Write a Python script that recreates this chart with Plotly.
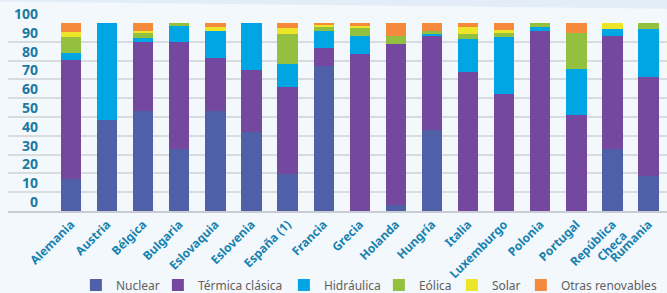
import plotly.graph_objects as go

paises = ["Alemania", "Austria", "Bélgica", "Bulgaria", "Eslovaquia", "Eslovenia",
          "España (1)", "Francia", "Grecia", "Holanda", "Hungría", "Italia",
          "Luxemburgo", "Polonia", "Portugal", "República<br>Checa", "Rumania"]

nuclear = [17.0, 48.5, 53.4, 33.0, 53.4, 41.9, 19.9, 77.3, 0.0, 3.2, 43.3, 0.0, 0.0, 0.0, 0.0, 33.0, 18.8]
termica = [63.4, 0.0, 36.6, 57.0, 27.9, 32.9, 46.2, 9.5, 83.6, 85.8, 49.8, 74.2, 62.5, 95.5, 51.0, 60.1, 52.6]
hidraulica = [3.6, 51.5, 2.2, 8.4, 14.4, 25.2, 12.2, 8.7, 9.3, 0.0, 1.2, 17.4, 30.2, 2.2, 24.3, 3.9, 25.2]
eolica = [8.3, 0.0, 2.8, 1.6, 0.0, 0.0, 16.0, 2.2, 4.6, 3.9, 1.2, 2.5, 2.0, 2.3, 19.2, 0.0, 3.4]
solar = [3.1, 0.0, 0.9, 0.0, 2.3, 0.0, 3.0, 1.2, 1.1, 0.0, 0.0, 3.8, 1.7, 0.0, 0.0, 3.0, 0.0]
otras = [4.6, 0.0, 4.1, 0.0, 2.0, 0.0, 2.7, 1.1, 1.4, 7.1, 4.5, 2.1, 3.6, 0.0, 5.5, 0.0, 0.0]

y_ticks = [0, 10, 20, 30, 40, 50, 60, 70, 80, 90, 100]

series = [
    ("Nuclear", nuclear, "#5060a8", 37),
    ("Térmica clásica", termica, "#74489e", 81),
    ("Hidráulica", hidraulica, "#00a6e3", 50),
    ("Eólica", eolica, "#93c13f", 28),
    ("Solar", solar, "#ede528", 24),
    ("Otras renovables", otras, "#f68a3c", 98),
]

fig = go.Figure()
for name, vals, col, lw in series:
    fig.add_trace(go.Bar(x=paises, y=vals, name=name, marker=dict(color=col, line=dict(width=0)),
                         width=0.56, legendwidth=lw))

# invisible trace to carry the label axis
fig.add_trace(go.Scatter(x=[paises[0]], y=[None], yaxis="y2", showlegend=False,
                         hoverinfo="skip", mode="markers", marker=dict(opacity=0)))

bg = "#f3f8fc"
fig.update_layout(
    width=667, height=293,
    margin=dict(l=8, r=0, t=23, b=82, autoexpand=False),
    paper_bgcolor=bg, plot_bgcolor=bg,
    barmode="stack",
    font=dict(family="Noto Sans", color="#606060"),
    xaxis=dict(range=[-1.745, 16.51], tickangle=-45, showgrid=False, automargin=False,
               showline=True, linecolor="#c9cdd3", linewidth=1.5,
               tickfont=dict(family="Noto Sans", size=12, color="#1782b0", weight="bold"),
               ticks=""),
    yaxis=dict(range=[0, 100], tickvals=y_ticks, showticklabels=False, automargin=False,
               showgrid=True, gridcolor="#d8dce1", gridwidth=1.5, zeroline=False),
    yaxis2=dict(range=[0, 100], tickvals=y_ticks, overlaying="y", anchor="free",
                position=0.0455, side="left", showgrid=False, zeroline=False, automargin=False,
                showline=False, ticklabelshift=-9,
                tickfont=dict(family="Noto Sans", size=14, color="#1a7aa4", weight="bold")),
    legend=dict(orientation="h", x=0.103, xanchor="left", y=-0.394, yanchor="middle",
                font=dict(family="Noto Sans", size=12, color="#606060"),
                traceorder="normal", bgcolor="rgba(0,0,0,0)"),
    shapes=[dict(type="path", xref="paper", yref="paper",
                 path="M -0.02 1.13 L 1.01 1.13 L 1.01 1.075 L -0.02 1.115 Z",
                 fillcolor="#e2edf8", line=dict(width=0), layer="below")],
)

fig.write_html("out.html", config={"displayModeBar": False},
               post_script="document.body.style.margin='0';document.body.style.background='#f3f8fc';")
